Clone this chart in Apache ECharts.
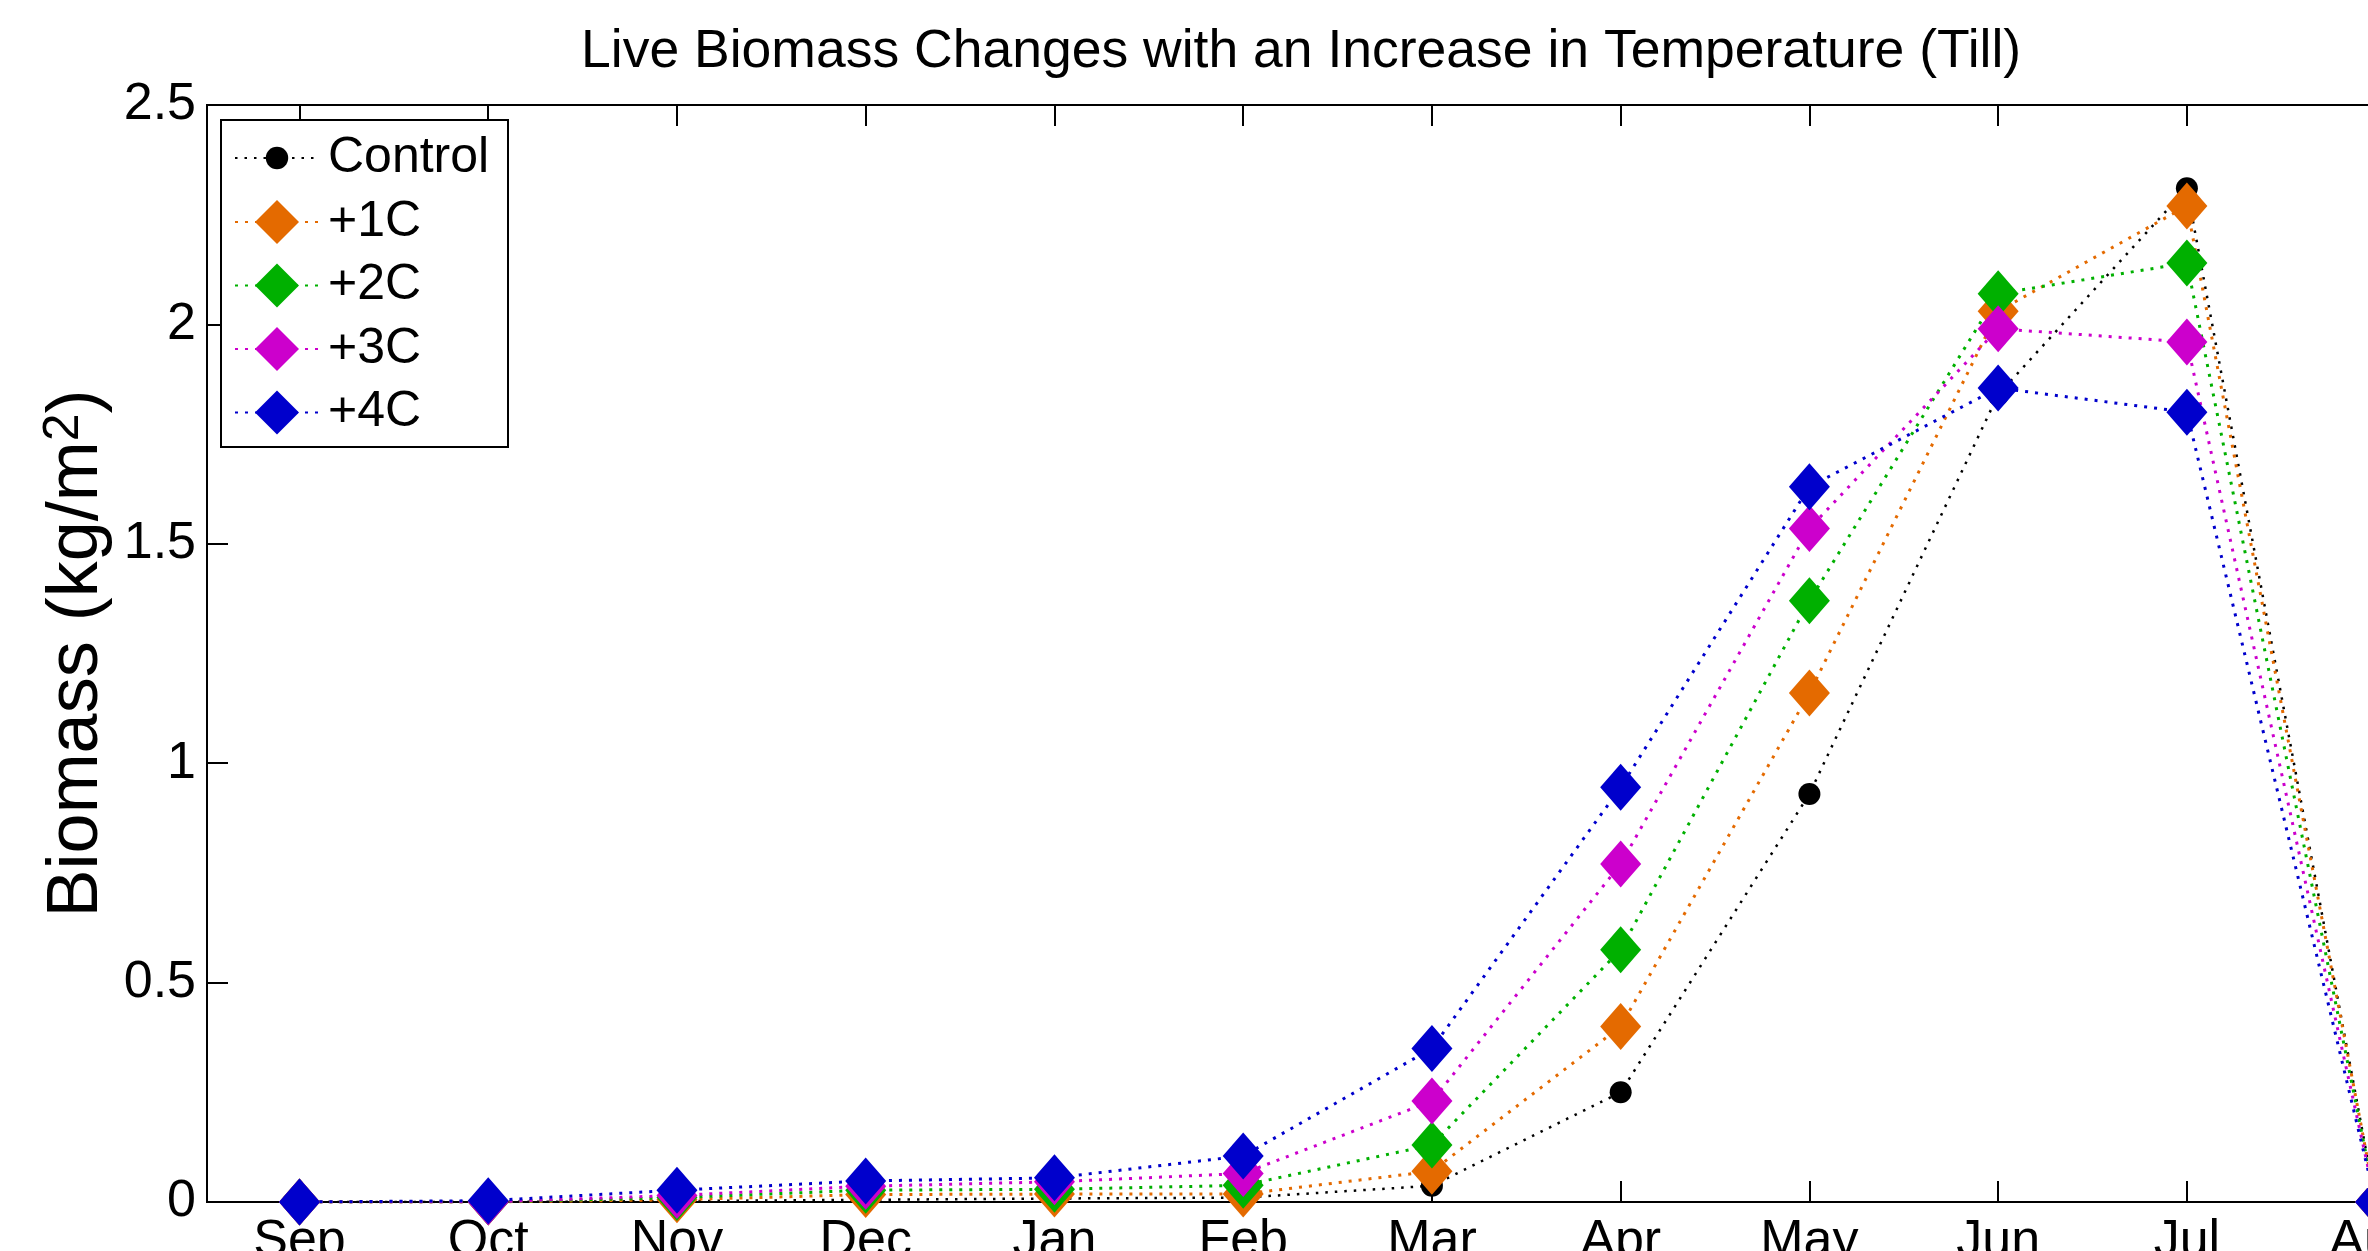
<!DOCTYPE html>
<html>
<head>
<meta charset="utf-8">
<title>Live Biomass</title>
<script src="https://cdn.jsdelivr.net/npm/echarts@6/dist/echarts.min.js"></script>
<style>
    html, body { margin: 0; padding: 0; background: #fff; }
    #chart { width: 2368px; height: 1251px; }
</style>
</head>
<body>
<div id="chart"></div>
<script>
// months along the x axis (Sep .. Aug)
var months = ['Sep', 'Oct', 'Nov', 'Dec', 'Jan', 'Feb', 'Mar', 'Apr', 'May', 'Jun', 'Jul', 'Aug'];
var monthPos = [1, 2, 3, 4, 5, 6, 7, 8, 9, 10, 11, 12];

// biomass (kg/m2) per scenario
var control = [0, 0, 0.002, 0.005, 0.008, 0.01, 0.037, 0.25, 0.93, 1.84, 2.31, 0];
var plus1C = [0, 0, 0.005, 0.017, 0.018, 0.018, 0.07, 0.40, 1.16, 2.03, 2.27, 0];
var plus2C = [0, 0, 0.01, 0.027, 0.029, 0.038, 0.13, 0.575, 1.37, 2.07, 2.14, 0];
var plus3C = [0, 0, 0.015, 0.036, 0.046, 0.065, 0.23, 0.77, 1.535, 1.99, 1.96, 0];
var plus4C = [0, 0.003, 0.027, 0.048, 0.055, 0.105, 0.35, 0.945, 1.63, 1.855, 1.80, 0];

var yTicks = [0, 0.5, 1, 1.5, 2, 2.5];

(function () {
    let chart = echarts.init(document.querySelector('#chart'));
    const font = 'Liberation Sans, Arial, sans-serif';

    function pairs(vals) {
        return vals.map(function (v, i) { return [monthPos[i], v]; });
    }

    function makeSeries(name, vals, color, symbol, size, lw) {
        return {
            name: name,
            type: 'line',
            data: pairs(vals),
            symbol: symbol,
            symbolSize: size,
            showSymbol: true,
            animation: false,
            itemStyle: { color: color },
            lineStyle: { color: color, width: lw, type: [lw, 7] },
            emphasis: { disabled: true }
        };
    }

    let option = {
        backgroundColor: '#fff',
        animation: false,
        title: {
            text: 'Live Biomass Changes with an Increase in Temperature (Till)',
            left: 576,
            top: 20,
            textStyle: { fontFamily: font, fontSize: 53.5, fontWeight: 'normal', color: '#000' }
        },
        grid: {
            left: 207,
            top: 105,
            right: -102,
            bottom: 49,
            show: true,
            borderColor: '#000',
            borderWidth: 2,
            outerBoundsMode: 'none',
            containLabel: false
        },
        graphic: [{
            type: 'rect',
            z: 5,
            shape: { x: 221, y: 120, width: 287, height: 327 },
            style: { fill: '#fff', stroke: '#000', lineWidth: 2 }
        }],
        legend: [{
            data: ['Control'],
            orient: 'vertical',
            left: 229,
            top: 128,
            z: 6,
            itemWidth: 84,
            itemHeight: 28,
            textStyle: { fontFamily: font, fontSize: 50, color: '#000', padding: [0, 0, 0, 4] }
        }, {
            data: ['+1C', '+2C', '+3C', '+4C'],
            orient: 'vertical',
            left: 229,
            top: 192,
            z: 6,
            itemWidth: 84,
            itemHeight: 55,
            itemGap: 13.5,
            textStyle: { fontFamily: font, fontSize: 50, color: '#000', padding: [0, 0, 0, 4] }
        }],
        xAxis: [{
            type: 'value',
            position: 'bottom',
            min: 0.51,
            max: 12.5,
            axisLine: { show: true, onZero: false, lineStyle: { color: '#000', width: 2 } },
            axisTick: { show: true, inside: true, length: 21, customValues: monthPos, lineStyle: { color: '#000', width: 2 } },
            axisLabel: {
                show: true,
                customValues: monthPos,
                margin: 14,
                fontFamily: font,
                fontSize: 52,
                color: '#000',
                formatter: function (v) { return months[Math.round(v) - 1] || ''; }
            },
            splitLine: { show: false }
        }, {
            type: 'value',
            position: 'top',
            min: 0.51,
            max: 12.5,
            axisLine: { show: true, onZero: false, lineStyle: { color: '#000', width: 2 } },
            axisTick: { show: true, inside: true, length: 21, customValues: monthPos, lineStyle: { color: '#000', width: 2 } },
            axisLabel: { show: false },
            splitLine: { show: false }
        }],
        yAxis: {
            type: 'value',
            min: yTicks[0],
            max: yTicks[yTicks.length - 1],
            interval: 0.5,
            name: 'Biomass (kg/m{sup|2})',
            nameLocation: 'middle',
            nameGap: 92,
            nameTextStyle: {
                fontFamily: font,
                fontSize: 72,
                color: '#000',
                rich: {
                    sup: { fontFamily: font, fontSize: 50, color: '#000', verticalAlign: 'top', padding: [0, 0, 26, 0] }
                }
            },
            axisLine: { show: true, lineStyle: { color: '#000', width: 2 } },
            axisTick: { show: true, inside: true, length: 21, lineStyle: { color: '#000', width: 2 } },
            axisLabel: { margin: 11, fontFamily: font, fontSize: 52, color: '#000' },
            splitLine: { show: false }
        },
        series: [
            makeSeries('Control', control, '#000000', 'circle', 22, 2.5),
            makeSeries('+1C', plus1C, '#E46A00', 'diamond', [41, 47], 3),
            makeSeries('+2C', plus2C, '#00B000', 'diamond', [41, 47], 3),
            makeSeries('+3C', plus3C, '#CC00CC', 'diamond', [41, 47], 3),
            makeSeries('+4C', plus4C, '#0000CC', 'diamond', [41, 47], 3)
        ]
    };
    chart.setOption(option);
})();
</script>
</body>
</html>
